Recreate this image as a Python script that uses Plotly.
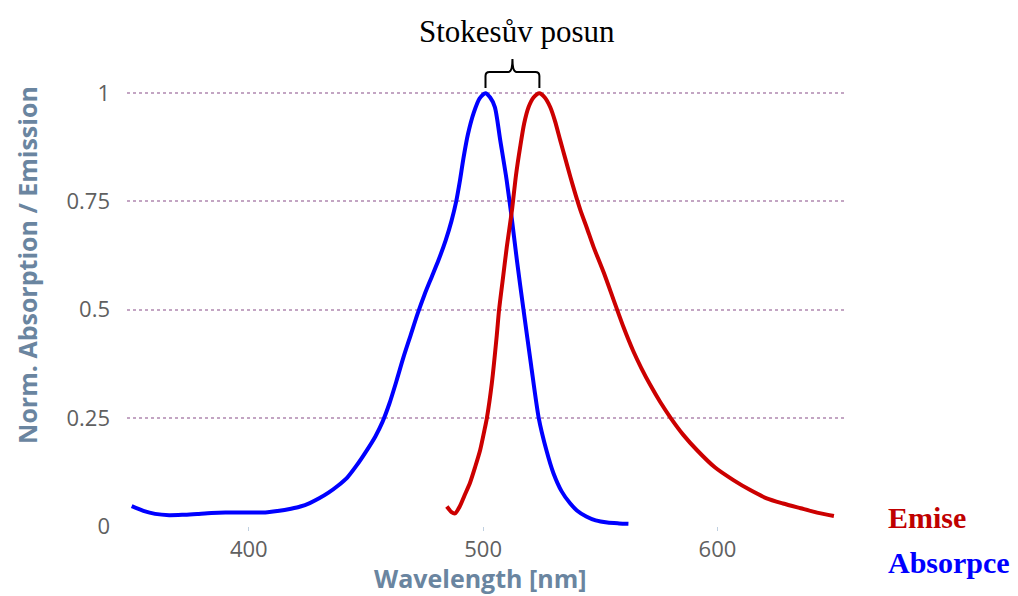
import plotly.graph_objects as go

# Absorption spectrum (blue)
abs_wl = [350, 355, 360, 366, 372, 378, 384, 390, 396, 402, 408, 413, 418, 422, 426,
          430, 434, 438, 442, 446, 450, 454, 457, 460, 463, 466, 469, 472, 475, 478,
          481, 484, 486.5, 488.5, 490, 491.6, 493.5, 496, 498.5, 501, 503, 505, 507.3,
          510, 512.3, 514.4, 517.2, 520.5, 523.7, 527, 530, 533.5, 537, 540, 544, 548,
          553, 558, 562]
abs_val = [0.046, 0.035, 0.028, 0.025, 0.026, 0.028, 0.030, 0.031, 0.031, 0.031, 0.032,
           0.035, 0.040, 0.045, 0.053, 0.064, 0.077, 0.093, 0.112, 0.14, 0.172, 0.207,
           0.24, 0.283, 0.335, 0.39, 0.44, 0.49, 0.535, 0.575, 0.615, 0.66, 0.705, 0.75,
           0.795, 0.85, 0.905, 0.955, 0.988, 1.0, 0.99, 0.968, 0.891, 0.80, 0.707, 0.614,
           0.50, 0.37, 0.25, 0.175, 0.122, 0.08, 0.053, 0.036, 0.022, 0.013, 0.008,
           0.006, 0.005]

# Emission spectrum (red)
em_wl = [484.5, 486.5, 488, 490, 492, 494.4, 496.5, 498.7, 500.5, 501.6, 503.7, 505.8,
         506.8, 508.5, 510.1, 512.3, 514, 515.8, 517.5, 519.4, 521.5, 524, 526.3, 528.6,
         530.7, 532.9, 535, 537.2, 539.3, 541.5, 544.3, 547.1, 551.5, 555.7, 560,
         564, 567.5, 571.4, 575.5, 580, 585.5, 591.3, 599, 606.8, 614, 621, 628, 635.5,
         642.5, 649.7]
em_val = [0.045, 0.032, 0.029, 0.045, 0.07, 0.10, 0.135, 0.175, 0.22, 0.25, 0.33, 0.44,
          0.50, 0.575, 0.645, 0.73, 0.81, 0.876, 0.93, 0.968, 0.99, 1.0, 0.99, 0.968,
          0.935, 0.891, 0.85, 0.807, 0.768, 0.73, 0.688, 0.645, 0.585, 0.522,
          0.458, 0.405, 0.365, 0.325, 0.287, 0.25, 0.21, 0.175, 0.135, 0.106, 0.083,
          0.064, 0.052, 0.041, 0.031, 0.023]

x_ticks = [400, 500, 600]
y_ticks = [0, 0.25, 0.5, 0.75, 1]
y_tick_text = ["0", "0.25", "0.5", "0.75", "1"]

X_RANGE = [348, 654]
Y_RANGE = [0, 1.012]

fig = go.Figure()
fig.add_trace(go.Scatter(x=abs_wl, y=abs_val, mode="lines", name="Absorpce",
                         line=dict(color="#0000ff", width=4, shape="spline", smoothing=0.7)))
fig.add_trace(go.Scatter(x=em_wl, y=em_val, mode="lines", name="Emise",
                         line=dict(color="#cc0000", width=4, shape="spline", smoothing=0.7)))

axis_font = "Open Sans"
title_color = "#6a85a0"

# page body has an 8px margin, so the figure is 8px smaller than the window
fig.update_layout(
    width=1010, height=588,
    margin=dict(l=119, r=174, t=80, b=70),
    paper_bgcolor="white", plot_bgcolor="white",
    showlegend=False,
    xaxis=dict(range=X_RANGE, tickvals=x_ticks, showgrid=False, zeroline=False,
               automargin=False, showline=False, ticks="outside", ticklen=4,
               tickcolor="#c0d0e0",
               tickfont=dict(family=axis_font, size=22, color="#606060")),
    yaxis=dict(range=Y_RANGE, tickvals=y_ticks, ticktext=y_tick_text, automargin=False,
               showgrid=True, gridcolor="rgb(195,165,195)", gridwidth=1.5, griddash="dot",
               zeroline=False, showline=False, ticks="", ticklabelstandoff=16,
               tickfont=dict(family=axis_font, size=22, color="#606060")),
)

# axis titles
fig.add_annotation(text="<b>Wavelength [nm]</b>", xref="paper", yref="paper",
                   x=0.493, y=-0.1187, showarrow=False, xanchor="center", yanchor="middle",
                   font=dict(family=axis_font, size=25, color=title_color))
fig.add_annotation(text="<b>Norm. Absorption / Emission</b>", xref="paper", yref="paper",
                   x=-0.1395, y=0.596, textangle=-90, showarrow=False,
                   xanchor="center", yanchor="middle",
                   font=dict(family=axis_font, size=25, color=title_color))

# Stokes shift brace between the two peaks (paper coordinates from data)
abs_peak = abs_wl[abs_val.index(max(abs_val))]
em_peak = em_wl[em_val.index(max(em_val))]
def xp(nm):
    return (nm - X_RANGE[0]) / (X_RANGE[1] - X_RANGE[0])
xl, xr = xp(abs_peak), xp(em_peak)
xm = (xl + xr) / 2
y0, y1, y2 = 1.0, 1.0365, 1.066
dx, dy = 0.0056, 0.009
path = (f"M {xl},{y0} L {xl},{y1-dy} Q {xl},{y1} {xl+dx},{y1} "
        f"L {xm-dx},{y1} Q {xm},{y1} {xm},{y2} Q {xm},{y1} {xm+dx},{y1} "
        f"L {xr-dx},{y1} Q {xr},{y1} {xr},{y1-dy} L {xr},{y0}")
fig.add_shape(type="path", path=path, xref="paper", yref="paper",
              line=dict(color="black", width=2))

fig.add_annotation(text="Stokesův posun", xref="paper", yref="paper",
                   x=xm + 0.007, y=1.128, showarrow=False, xanchor="center", yanchor="middle",
                   font=dict(family="Liberation Serif", size=31, color="black"))
fig.add_annotation(text="<b>Emise</b>", xref="paper", yref="paper",
                   x=1.0586, y=0.02, showarrow=False, xanchor="left", yanchor="middle",
                   font=dict(family="Liberation Serif", size=30, color="#c00000"))
fig.add_annotation(text="<b>Absorpce</b>", xref="paper", yref="paper",
                   x=1.0586, y=-0.083, showarrow=False, xanchor="left", yanchor="middle",
                   font=dict(family="Liberation Serif", size=30, color="#0000ff"))

fig.write_html("out.html")
